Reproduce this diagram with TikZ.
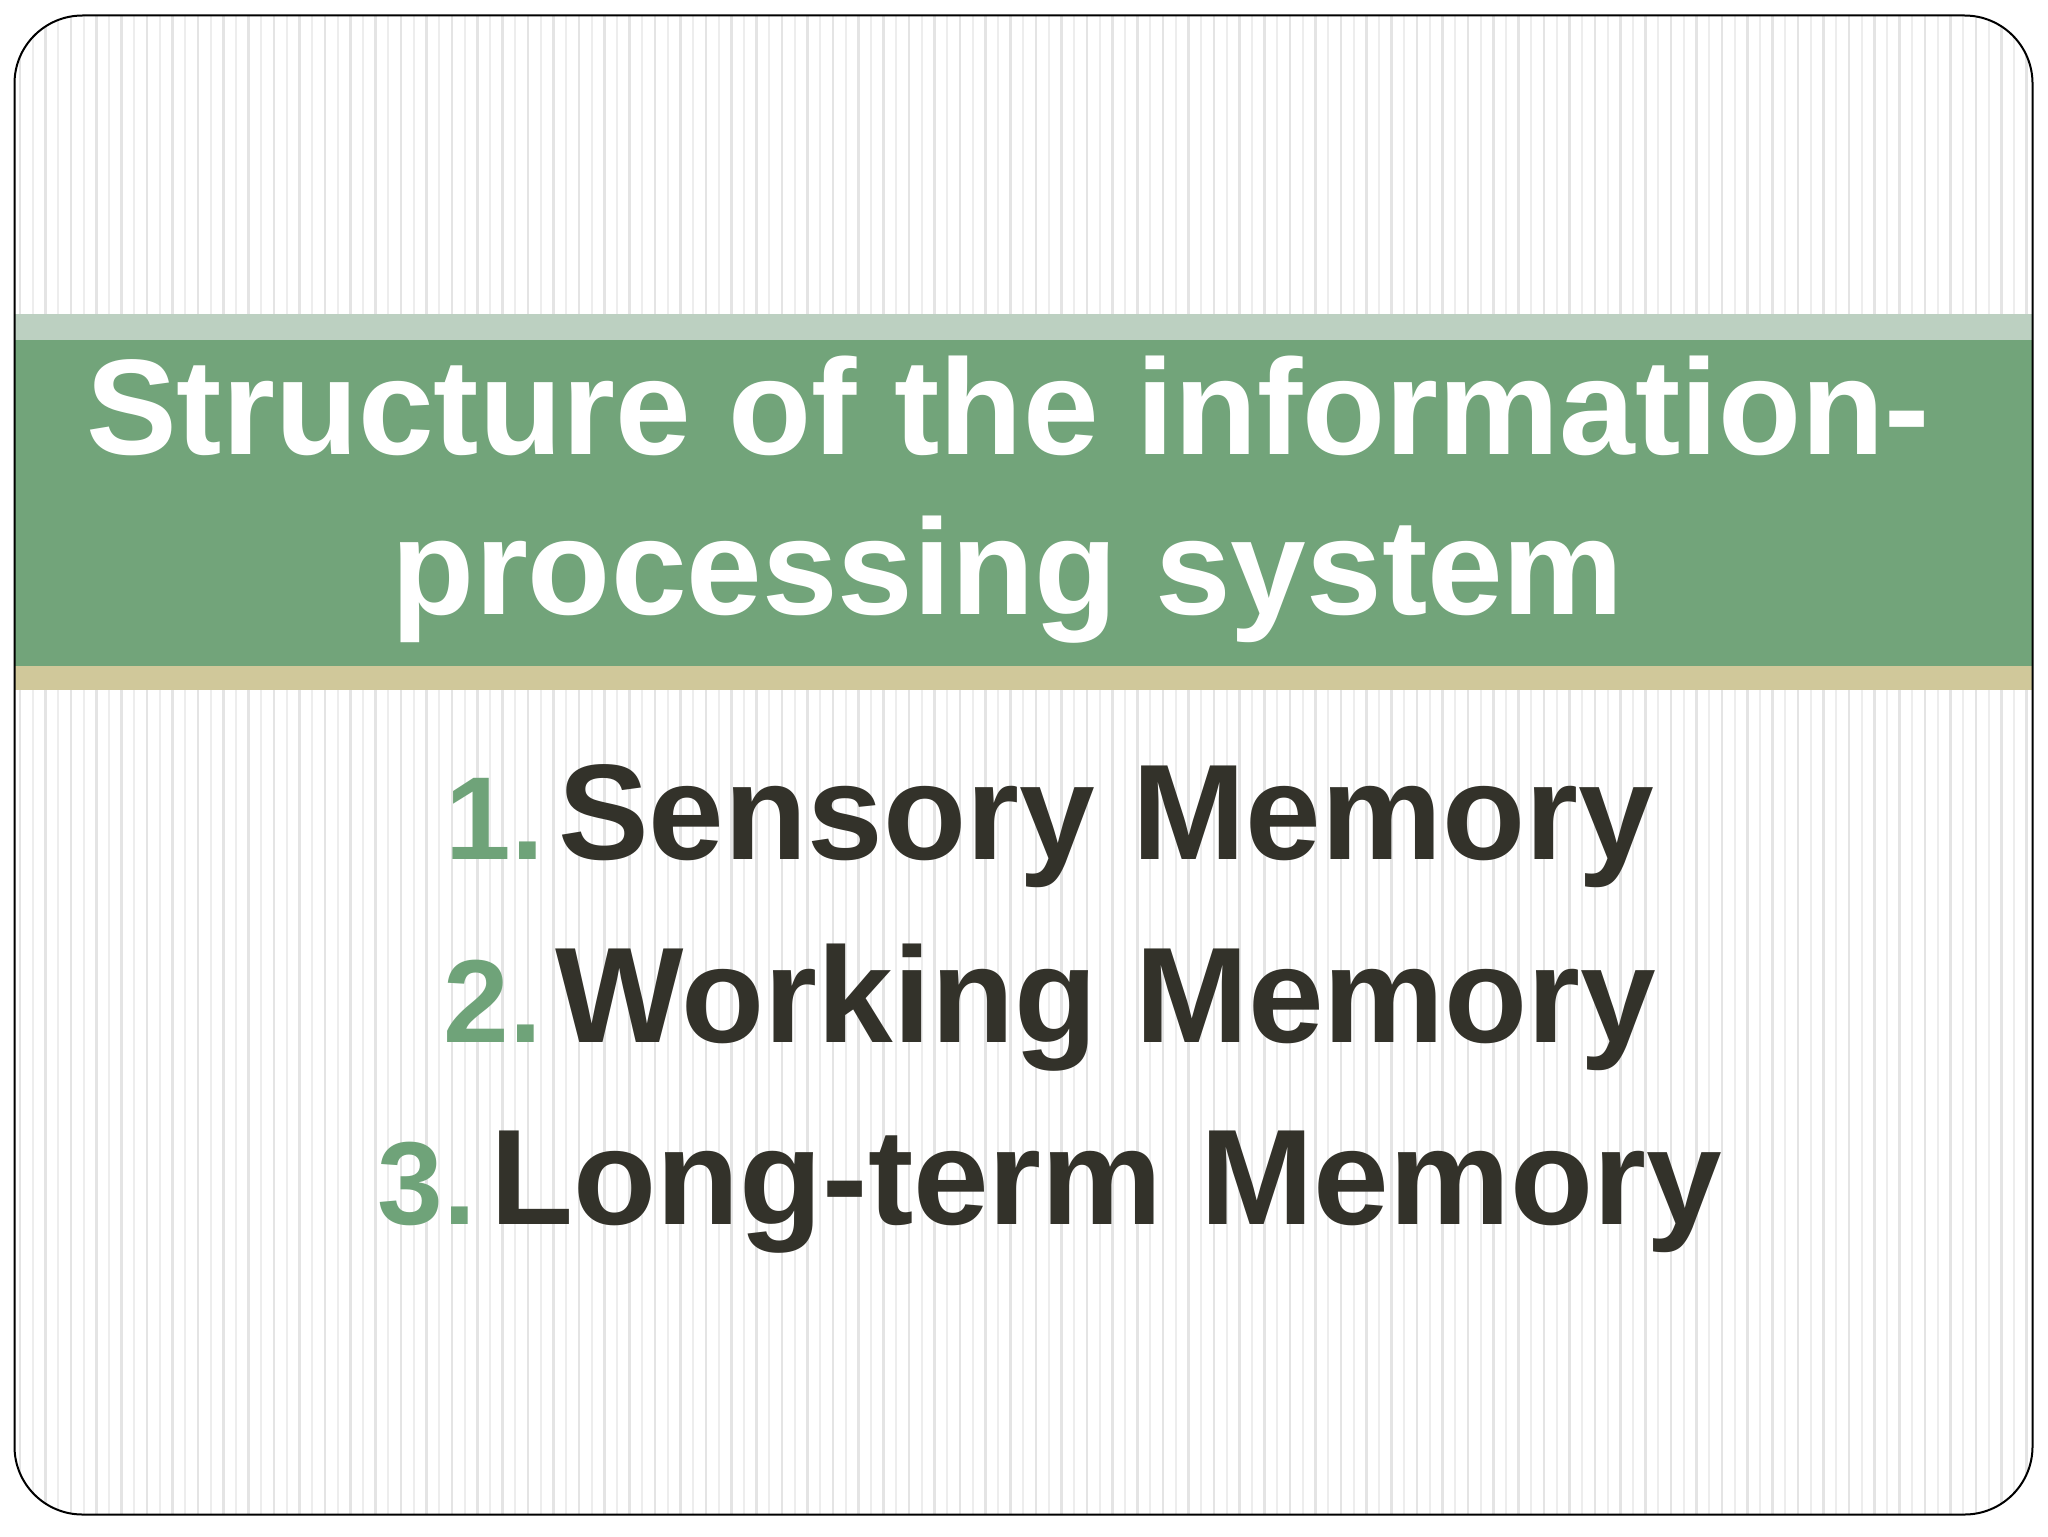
\documentclass[tikz,border=0pt]{standalone}
\usepackage{fontspec}
\setmainfont{Liberation Sans}
\definecolor{bandgreen}{HTML}{72A47A}
\definecolor{bandlight}{HTML}{BCD0C1}
\definecolor{bandtan}{HTML}{D0C89A}
\definecolor{numgreen}{HTML}{6FA379}
\definecolor{textdark}{HTML}{33322A}
\definecolor{stripeA}{HTML}{E4E4E4}
\definecolor{stripeB}{HTML}{EDEDED}
\tikzset{
  titletext/.style={anchor=base, text=white, font=\fontsize{68}{80}\bfseries\selectfont, inner sep=0pt},
  itemtext/.style={anchor=base, text=textdark, font=\fontsize{68}{80}\bfseries\selectfont, inner sep=0pt},
  band/.style={draw=none},
}
\newcommand{\itemnum}[1]{{\color{numgreen}\fontsize{59}{70}\selectfont #1}\hspace{7pt}}
\begin{document}
\begin{tikzpicture}[x=0.5pt,y=-0.5pt]
\useasboundingbox (0,0) rectangle (2048,1536);
\fill[white] (0,0) rectangle (2048,1536);
% stripes clipped to the rounded frame
\begin{scope}
  \clip[rounded corners=34pt] (14.5,15.5) rectangle (2032.5,1514.5);
  \foreach \i in {0,...,80} {
    \draw[stripeA, line width=1.3pt] ({20+\i*25.4},0) -- ({20+\i*25.4},1536);
    \draw[stripeB, line width=1.0pt] ({32.7+\i*25.4},0) -- ({32.7+\i*25.4},1536);
  }
\end{scope}
% bands
\fill[bandlight] (14.5,313.5) rectangle (2032.5,340);
\fill[bandgreen] (14.5,340) rectangle (2032.5,666);
\fill[bandtan] (14.5,666) rectangle (2032.5,690);
% frame
\draw[black, line width=1pt, rounded corners=34pt] (14.5,15.5) rectangle (2032.5,1514.5);
% title
\node[titletext] (t1) at (1008,454) {Structure of the information-};
\node[titletext] (t2) at (1008,614) {processing system};
% list
\node[itemtext] (i1) at (1050,859) {\itemnum{1.}Sensory Memory};
\node[itemtext] (i2) at (1050,1042) {\itemnum{2.}Working Memory};
\node[itemtext] (i3) at (1050,1224) {\itemnum{3.}Long-term Memory};
\end{tikzpicture}
\end{document}
